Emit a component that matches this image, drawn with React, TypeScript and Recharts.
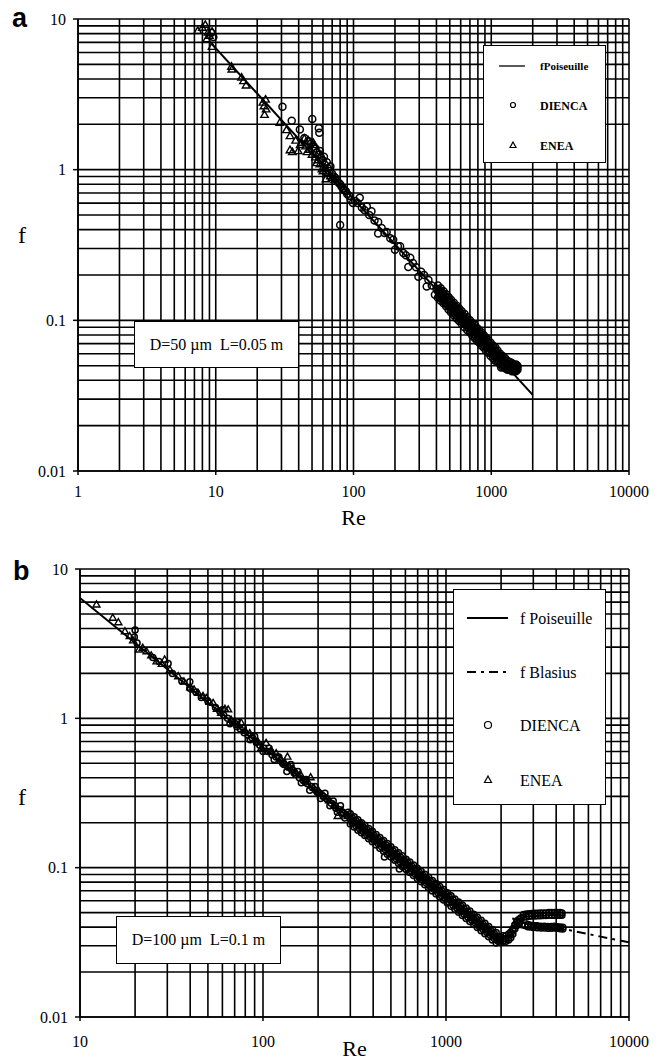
import React from 'react';
import { ComposedChart, Scatter, Line, XAxis, YAxis, CartesianGrid, Legend } from 'recharts';

const SERIF = '"Liberation Serif", "Times New Roman", Times, serif';
const SANS = '"Liberation Sans", Arial, sans-serif';

// ---------- axes / grid values ----------
const xGridA = [1, 2, 3, 4, 5, 6, 7, 8, 9, 10, 20, 30, 40, 50, 60, 70, 80, 90, 100, 200, 300, 400, 500, 600, 700, 800, 900, 1000, 2000, 3000, 4000, 5000, 6000, 7000, 8000, 9000, 10000];
const xGridB = [10, 20, 30, 40, 50, 60, 70, 80, 90, 100, 200, 300, 400, 500, 600, 700, 800, 900, 1000, 2000, 3000, 4000, 5000, 6000, 7000, 8000, 9000, 10000];
const yGrid = [0.01, 0.02, 0.03, 0.04, 0.05, 0.06, 0.07, 0.08, 0.09, 0.1, 0.2, 0.3, 0.4, 0.5, 0.6, 0.7, 0.8, 0.9, 1, 2, 3, 4, 5, 6, 7, 8, 9, 10];
const xMajorA = [1, 10, 100, 1000, 10000];
const xLabelsA = ['1', '10', '100', '1000', '10000'];
const xMajorB = [10, 100, 1000, 10000];
const xLabelsB = ['10', '100', '1000', '10000'];
const yMajor = [0.01, 0.1, 1, 10];
const yLabels = ['0.01', '0.1', '1', '10'];

// ---------- panel a data ----------
const poiseuilleA: [number, number][] = [[9, 7.11], [2000, 0.032]];

const diencaA: [number, number][] = [
  [9.3, 8.1], [9.6, 7.6],
  [30.5, 2.62], [35.6, 2.11], [40.8, 1.85], [44, 1.62], [50.2, 2.17], [56, 1.88], [56.5, 1.76],
  [47, 1.55], [49, 1.48], [51, 1.42], [53, 1.38], [54, 1.3], [56, 1.25], [57, 1.33], [58, 1.2], [60, 1.15],
  [61, 1.22], [62, 1.08], [64, 1.12], [65, 1.02], [67, 0.98], [68, 1.05], [70, 0.94], [72, 0.9], [74, 0.88],
  [76, 0.84], [78, 0.82], [80, 0.8], [82, 0.77], [84, 0.75], [86, 0.73], [88, 0.72], [90, 0.69], [93, 0.67],
  [80, 0.43],
  [96, 0.63], [99, 0.6], [103, 0.62], [107, 0.6], [111, 0.65], [115, 0.56], [120, 0.54], [125, 0.57], [130, 0.5],
  [135, 0.53], [142, 0.46], [151, 0.45], [151, 0.377], [160, 0.41], [168, 0.38], [174, 0.386], [185, 0.35],
  [194, 0.343], [200, 0.294], [210, 0.31], [218, 0.31], [230, 0.28], [240, 0.27], [250, 0.226], [258, 0.26],
  [270, 0.24], [285, 0.225], [296, 0.195], [310, 0.21], [325, 0.2], [340, 0.168], [350, 0.185], [370, 0.17],
  [390, 0.148], [400, 0.162], [450, 0.13], [531, 0.112],
  [410, 0.141], [410, 0.156], [410, 0.17],
  [430, 0.135], [430, 0.149], [430, 0.163],
  [450, 0.142], [450, 0.156],
  [470, 0.124], [470, 0.136], [470, 0.149],
  [490, 0.118], [490, 0.131], [490, 0.143],
  [510, 0.113], [510, 0.125], [510, 0.137],
  [535, 0.108], [535, 0.12], [535, 0.131],
  [560, 0.103], [560, 0.114], [560, 0.125],
  [585, 0.099], [585, 0.109], [585, 0.12],
  [610, 0.095], [610, 0.105], [610, 0.115],
  [640, 0.09], [640, 0.1], [640, 0.11],
  [670, 0.086], [670, 0.0955], [670, 0.105],
  [700, 0.083], [700, 0.0915], [700, 0.1],
  [730, 0.079], [730, 0.0877], [730, 0.096],
  [760, 0.076], [760, 0.0842], [760, 0.093],
  [790, 0.073], [790, 0.081], [790, 0.089],
  [820, 0.071], [820, 0.078], [820, 0.086],
  [850, 0.068], [850, 0.0753], [850, 0.083],
  [880, 0.066], [880, 0.0727], [880, 0.08],
  [915, 0.063], [915, 0.07], [915, 0.077],
  [950, 0.061], [950, 0.0674], [950, 0.074],
  [990, 0.058], [990, 0.0646], [990, 0.071],
  [1030, 0.056], [1030, 0.0621], [1030, 0.068],
  [1070, 0.054], [1070, 0.0598], [1070, 0.066],
  [1110, 0.053], [1110, 0.0577], [1110, 0.063],
  [1160, 0.051], [1160, 0.0552], [1160, 0.06],
  [1180, 0.0487],
  [1210, 0.049], [1210, 0.053], [1210, 0.058],
  [1260, 0.048], [1260, 0.051], [1260, 0.056],
  [1310, 0.047], [1310, 0.05], [1310, 0.054],
  [1360, 0.047], [1360, 0.0495], [1360, 0.053],
  [1410, 0.046], [1410, 0.049], [1410, 0.052],
  [1460, 0.046], [1460, 0.0485], [1460, 0.051],
  [1510, 0.046], [1510, 0.048], [1510, 0.051],
  [1550, 0.047], [1550, 0.049], [1550, 0.05],
  // intermediate rows of the dense band
  [420, 0.145], [420, 0.16], [440, 0.138], [440, 0.153], [460, 0.132], [460, 0.146], [480, 0.127], [480, 0.14],
  [500, 0.122], [500, 0.134], [522, 0.116], [522, 0.129], [547, 0.111], [547, 0.123], [572, 0.106], [572, 0.117],
  [597, 0.102], [597, 0.113], [625, 0.0973], [625, 0.1075], [655, 0.0928], [655, 0.1026], [685, 0.0888], [685, 0.0981],
  [715, 0.085], [715, 0.094], [745, 0.0816], [745, 0.0902], [775, 0.0785], [775, 0.0867], [805, 0.0755], [805, 0.0835],
  [835, 0.0728], [835, 0.0805], [865, 0.0703], [865, 0.0777], [897, 0.0678], [897, 0.0749], [932, 0.0652], [932, 0.0721],
  [970, 0.0627], [970, 0.0693], [1010, 0.0602], [1010, 0.0665], [1050, 0.0579], [1050, 0.064], [1090, 0.0558], [1090, 0.0616],
  [1135, 0.0536], [1135, 0.0592], [1185, 0.0515], [1185, 0.057], [1235, 0.05], [1235, 0.0545], [1285, 0.0485], [1285, 0.0525],
  [1335, 0.0478], [1335, 0.0515], [1385, 0.047], [1385, 0.051], [1435, 0.0465], [1435, 0.0505], [1485, 0.0462], [1485, 0.05],
  [1530, 0.047], [1530, 0.0495],
  [420, 0.152], [440, 0.1455], [460, 0.139], [480, 0.1333], [500, 0.128], [522, 0.1226], [547, 0.117], [572, 0.1119],
  [597, 0.1072], [625, 0.1024], [655, 0.0977], [685, 0.0934], [715, 0.0895], [745, 0.0859], [775, 0.0826], [805, 0.0795],
  [835, 0.0766], [865, 0.074], [897, 0.0713], [932, 0.0687], [970, 0.066], [1010, 0.0634], [1050, 0.061], [1090, 0.0587],
  [1135, 0.0564], [1185, 0.054], [1235, 0.052], [1285, 0.0505], [1335, 0.0495], [1385, 0.049], [1435, 0.0485], [1485, 0.048],
];

const eneaA: [number, number][] = [
  [7.4, 8.3], [8.0, 8.7], [8.4, 9.1], [8.8, 8.1], [9.4, 8.2], [8.6, 7.3], [9.4, 6.5], [9.0, 7.7],
  [13, 4.8], [13.1, 4.6], [15.4, 4.06], [15.9, 3.85], [16.6, 3.6],
  [22, 2.77], [22.4, 2.62], [22.6, 2.3], [23, 2.9], [23.2, 2.5],
  [29.2, 2.04], [32.6, 1.82], [34.6, 1.66], [34.6, 1.34], [36, 1.3], [39.7, 1.32], [38, 1.55], [41, 1.45],
  [42, 1.5], [44, 1.6], [45, 1.42], [46, 1.3], [47, 1.55], [48, 1.35], [50, 1.25], [51, 1.5], [52, 1.45],
  [53, 1.2], [54, 1.1], [55, 1.15], [57, 1.08], [58, 1.25], [59, 1.0], [60, 0.97], [62, 1.02], [63, 0.86],
  [65, 0.95], [68, 0.9], [70, 0.88], [73, 0.85],
];

// ---------- panel b data ----------
const poiseuilleB: [number, number][] = [[10, 6.4], [2000, 0.032]];
const blasiusB: [number, number][] = [[2300, 0.0457], [10000, 0.0316]];

const diencaB: [number, number][] = [
  [19.8, 3.5], [20, 3.9], [20.5, 3.2], [25, 2.55], [27, 2.4], [30.3, 2.33], [32, 2.0], [36, 1.78],
  [39.8, 1.76], [39.8, 1.59], [43, 1.5], [46, 1.38], [50, 1.3], [55, 1.18], [58, 1.12], [61, 1.05],
  [64, 1.0], [68, 0.95], [72, 0.88], [75, 0.85], [79, 0.8], [83, 0.77], [87, 0.74], [92, 0.69], [96, 0.66],
  [101, 0.63], [106, 0.6], [112, 0.57], [118, 0.55], [124, 0.52], [130, 0.49], [137, 0.47], [144, 0.45],
  [151, 0.42], [158, 0.4], [166, 0.385], [175, 0.365], [184, 0.35], [194, 0.33], [204, 0.315], [214, 0.3],
  [225, 0.285], [236, 0.27], [248, 0.26], [260, 0.245], [273, 0.235], [286, 0.225],
  [60, 1.14], [66, 0.92], [72, 0.95], [78, 0.86], [85, 0.72], [90, 0.76], [100, 0.6], [108, 0.63],
  [115, 0.53], [122, 0.55], [135, 0.44], [142, 0.49], [155, 0.44], [162, 0.37], [172, 0.39], [180, 0.33],
  [192, 0.35], [206, 0.29], [218, 0.315], [232, 0.26], [242, 0.28], [255, 0.235], [265, 0.26], [280, 0.215],
  [292, 0.235], [461, 0.118], [556, 0.098],
  [110, 0.6], [128, 0.5], [148, 0.43], [170, 0.375], [198, 0.32], [222, 0.29], [250, 0.25], [275, 0.23],
  [300, 0.196], [300, 0.213], [300, 0.23],
  [315, 0.187], [315, 0.203], [315, 0.219],
  [330, 0.178], [330, 0.194], [330, 0.209],
  [345, 0.171], [345, 0.186], [345, 0.2],
  [360, 0.164], [360, 0.178], [360, 0.192],
  [378, 0.156], [378, 0.169], [378, 0.183],
  [396, 0.149], [396, 0.162], [396, 0.175],
  [415, 0.142], [415, 0.154], [415, 0.167],
  [435, 0.135], [435, 0.147], [435, 0.159],
  [456, 0.129], [456, 0.14], [456, 0.152],
  [478, 0.123], [478, 0.134], [478, 0.145],
  [500, 0.118], [500, 0.128], [500, 0.138],
  [525, 0.112], [525, 0.122], [525, 0.132],
  [550, 0.107], [550, 0.116], [550, 0.126],
  [577, 0.102], [577, 0.111], [577, 0.12],
  [605, 0.0973], [605, 0.106], [605, 0.114],
  [634, 0.0929], [634, 0.101], [634, 0.109],
  [665, 0.0885], [665, 0.0962], [665, 0.104],
  [697, 0.0845], [697, 0.0918], [697, 0.0992],
  [731, 0.0806], [731, 0.0876], [731, 0.0946],
  [766, 0.0769], [766, 0.0836], [766, 0.0902],
  [803, 0.0733], [803, 0.0797], [803, 0.0861],
  [842, 0.0699], [842, 0.076], [842, 0.0821],
  [883, 0.0667], [883, 0.0725], [883, 0.0783],
  [925, 0.0637], [925, 0.0692], [925, 0.0747],
  [970, 0.0607], [970, 0.066], [970, 0.0713],
  [1017, 0.0579], [1017, 0.0629], [1017, 0.068],
  [1066, 0.0552], [1066, 0.06], [1066, 0.0648],
  [1118, 0.0527], [1118, 0.0572], [1118, 0.0618],
  [1172, 0.0502], [1172, 0.0546], [1172, 0.059],
  [1229, 0.0479], [1229, 0.0521], [1229, 0.0562],
  [1288, 0.0457], [1288, 0.0497], [1288, 0.0537],
  [1350, 0.0436], [1350, 0.0474], [1350, 0.0512],
  [1416, 0.0416], [1416, 0.0452], [1416, 0.0488],
  [1484, 0.0397], [1484, 0.0431], [1484, 0.0466],
  [1556, 0.0378], [1556, 0.0411], [1556, 0.0444],
  [1631, 0.0361], [1631, 0.0392], [1631, 0.0424],
  [1710, 0.0344], [1710, 0.0374], [1710, 0.0404],
  [1793, 0.0328], [1793, 0.0357], [1793, 0.0386],
  [1880, 0.0313], [1880, 0.034], [1880, 0.0368],
  [1971, 0.0315], [1971, 0.033], [1971, 0.0345],
  [2050, 0.0322], [2050, 0.0335], [2050, 0.035],
  [2130, 0.0322], [2130, 0.0333], [2130, 0.035],
  [2200, 0.0328], [2200, 0.034], [2200, 0.036],
  [2260, 0.034], [2260, 0.0355], [2260, 0.037],
  [2320, 0.036], [2320, 0.038], [2320, 0.039],
  [2380, 0.039], [2380, 0.041], [2380, 0.0415],
  [2440, 0.041], [2440, 0.0435], [2440, 0.044],
  [2500, 0.0425], [2500, 0.045],
  [2560, 0.044], [2560, 0.046],
  [2650, 0.0465], [2650, 0.0485], [2750, 0.047], [2750, 0.049], [2850, 0.0472], [2850, 0.0492],
  [2950, 0.0474], [2950, 0.0494], [3060, 0.0475], [3060, 0.0495], [3170, 0.0476], [3170, 0.0496],
  [3280, 0.0477], [3280, 0.0497], [3400, 0.0478], [3400, 0.0498], [3520, 0.0478], [3520, 0.0498],
  [3650, 0.048], [3650, 0.05], [3780, 0.048], [3780, 0.05], [3920, 0.048], [3920, 0.05],
  [4060, 0.0481], [4060, 0.0501], [4200, 0.0481], [4200, 0.0501], [4300, 0.048], [4300, 0.0498],
  [2600, 0.0415], [2700, 0.041], [2800, 0.0402], [2800, 0.0416], [2900, 0.04], [2900, 0.0412],
  [3000, 0.0398], [3000, 0.041], [3150, 0.0396], [3150, 0.0408], [3300, 0.0395], [3300, 0.0406],
  [3450, 0.0394], [3450, 0.0405], [3600, 0.0393], [3600, 0.0404], [3750, 0.0393], [3750, 0.0403],
  [3900, 0.0394], [3900, 0.0405], [4050, 0.0393], [4050, 0.0402], [4200, 0.039], [4200, 0.0401],
  [4350, 0.0389], [4350, 0.0399],
  // intermediate rows of the dense band
  [307, 0.2], [307, 0.217], [322, 0.191], [322, 0.207], [337, 0.182], [337, 0.198], [352, 0.175], [352, 0.189],
  [369, 0.166], [369, 0.18], [387, 0.159], [387, 0.172], [405, 0.152], [405, 0.164], [425, 0.145], [425, 0.157],
  [445, 0.138], [445, 0.15], [467, 0.132], [467, 0.143], [489, 0.126], [489, 0.136], [512, 0.12], [512, 0.13],
  [537, 0.114], [537, 0.124], [563, 0.109], [563, 0.118], [591, 0.104], [591, 0.113], [619, 0.0993], [619, 0.1075],
  [649, 0.0947], [649, 0.1026], [681, 0.0902], [681, 0.0977], [714, 0.086], [714, 0.0932], [748, 0.0822], [748, 0.089],
  [784, 0.0784], [784, 0.0849], [822, 0.0748], [822, 0.081], [862, 0.0713], [862, 0.0772], [904, 0.068], [904, 0.0736],
  [947, 0.0649], [947, 0.0703], [993, 0.0619], [993, 0.0671], [1041, 0.059], [1041, 0.064], [1092, 0.0563], [1092, 0.0609],
  [1145, 0.0537], [1145, 0.0581], [1200, 0.0512], [1200, 0.0555], [1258, 0.0488], [1258, 0.0529], [1319, 0.0466], [1319, 0.0505],
  [1383, 0.0444], [1383, 0.0481], [1450, 0.0424], [1450, 0.0459], [1520, 0.0404], [1520, 0.0438], [1593, 0.0386], [1593, 0.0418],
  [1670, 0.0368], [1670, 0.0398], [1751, 0.0351], [1751, 0.038], [1836, 0.0335], [1836, 0.0363], [1925, 0.0322], [1925, 0.0342],
  [307, 0.2085], [322, 0.1988], [337, 0.1899], [352, 0.1818], [369, 0.1734], [387, 0.1654], [405, 0.158], [425, 0.1506],
  [445, 0.1438], [467, 0.137], [489, 0.1309], [512, 0.125], [537, 0.1192], [563, 0.1137], [591, 0.1083], [619, 0.1034],
  [649, 0.0986], [681, 0.094], [714, 0.0896], [748, 0.0856], [784, 0.0816], [822, 0.0779], [862, 0.0742], [904, 0.0708],
  [947, 0.0676], [993, 0.0645], [1041, 0.0615], [1092, 0.0586], [1145, 0.0559], [1200, 0.0533], [1258, 0.0509], [1319, 0.0485],
  [1383, 0.0463], [1450, 0.0441], [1520, 0.0421], [1593, 0.0402], [1670, 0.0383], [1751, 0.0366], [1836, 0.0349], [1925, 0.0332],
];

const eneaB: [number, number][] = [
  [12.3, 5.74], [15.1, 4.68], [16.2, 4.37], [17.6, 3.8], [18.7, 3.53], [19.5, 3.3], [21, 2.87], [22, 2.95],
  [23.1, 2.79], [24.5, 2.62], [26.2, 2.39], [28, 2.3], [29, 2.46], [31, 2.1], [34.4, 1.9], [37, 1.75],
  [40, 1.6], [42, 1.55], [44.2, 1.47], [47, 1.4], [49, 1.36], [51, 1.28], [53.4, 1.26], [56, 1.15],
  [59, 1.08], [62, 1.15], [64.5, 1.14], [67, 0.97], [70, 0.95], [73, 0.9], [76, 0.93], [80, 0.82],
  [84.6, 0.79], [90, 0.72], [94, 0.69], [98, 0.63], [104, 0.68], [110, 0.6], [118, 0.58], [125, 0.53],
  [132, 0.5], [136, 0.55], [140, 0.47], [146, 0.46], [152, 0.43], [160, 0.42], [170, 0.38], [182, 0.4],
  [190, 0.34], [200, 0.33], [215, 0.3], [230, 0.28], [245, 0.26], [256, 0.22], [270, 0.24], [290, 0.22],
];

const toPts = (arr: [number, number][]) => arr.map(([re, f]) => ({ re, f }));

// ---------- shapes ----------
const circleShape = (r: number, sw: number) => (p: any) => (
  <circle cx={p.cx} cy={p.cy} r={r} fill="none" stroke="#000" strokeWidth={sw} />
);
const triShape = (s: number, sw: number) => (p: any) => {
  const h = s * 0.866;
  return (
    <path
      d={`M${p.cx},${p.cy - (h * 2) / 3} L${p.cx + s / 2},${p.cy + h / 3} L${p.cx - s / 2},${p.cy + h / 3} Z`}
      fill="none"
      stroke="#000"
      strokeWidth={sw}
    />
  );
};

const makeXTick = (majors: number[], labels: string[], dy: number) => (props: any) => {
  const { x, y, payload } = props;
  const i = majors.indexOf(payload.value);
  if (i < 0) return <g />;
  return (
    <g>
      <line x1={x} x2={x} y1={y} y2={y + 4} stroke="#000" strokeWidth={1.5} />
      <text x={x} y={y + dy} textAnchor="middle" fontFamily={SERIF} fontSize={16} fill="#000">
        {labels[i]}
      </text>
    </g>
  );
};

const makeYTick = (gap: number) => (props: any) => {
  const { x, y, payload } = props;
  const i = yMajor.indexOf(payload.value);
  if (i < 0) return <g />;
  return (
    <g>
      <line x1={x - 5} x2={x} y1={y} y2={y} stroke="#000" strokeWidth={1.5} />
      <text x={x - gap} y={y + 5.5} textAnchor="end" fontFamily={SERIF} fontSize={16} fill="#000">
        {yLabels[i]}
      </text>
    </g>
  );
};

const legendA = () => (
  <svg width={123} height={118} style={{ display: 'block' }}>
    <rect x={0.5} y={0.5} width={122} height={117} fill="#fff" stroke="#000" strokeWidth={1} />
    <line x1={16} x2={42} y1={21} y2={21} stroke="#000" strokeWidth={1.3} />
    <text x={57} y={25} fontFamily={SERIF} fontSize={11} fontWeight="bold">fPoiseuille</text>
    <circle cx={30} cy={60} r={2.5} fill="none" stroke="#000" strokeWidth={1.2} />
    <text x={57} y={64.5} fontFamily={SERIF} fontSize={12} fontWeight="bold">DIENCA</text>
    <path d="M30,97 L33,102.5 L27,102.5 Z" fill="none" stroke="#000" strokeWidth={1.2} />
    <text x={57} y={104.5} fontFamily={SERIF} fontSize={12} fontWeight="bold">ENEA</text>
  </svg>
);

const legendB = () => (
  <svg width={153} height={216} style={{ display: 'block' }}>
    <rect x={0.5} y={0.5} width={152} height={215} fill="#fff" stroke="#000" strokeWidth={1} />
    <line x1={14} x2={55} y1={29} y2={29} stroke="#000" strokeWidth={2} />
    <text x={67} y={34.5} fontFamily={SERIF} fontSize={16}>f Poiseuille</text>
    <line x1={14} x2={55} y1={83} y2={83} stroke="#000" strokeWidth={2} strokeDasharray="9 5 3 5" />
    <text x={67} y={88.5} fontFamily={SERIF} fontSize={16}>f Blasius</text>
    <circle cx={35} cy={136} r={3.5} fill="none" stroke="#000" strokeWidth={1.2} />
    <text x={67} y={141.5} fontFamily={SERIF} fontSize={16}>DIENCA</text>
    <path d="M35,187 L38.5,193.5 L31.5,193.5 Z" fill="none" stroke="#000" strokeWidth={1.2} />
    <text x={67} y={196.5} fontFamily={SERIF} fontSize={16}>ENEA</text>
  </svg>
);

const gridStroke = '#000';
const gridWidth = 1.6;

export default function App() {
  return (
    <div style={{ position: 'absolute', left: 0, top: 0, width: 663, height: 1063, background: '#fff' }}>
      <ComposedChart width={663} height={530} margin={{ top: 19, right: 34, bottom: 0, left: 0 }}>
        <CartesianGrid stroke={gridStroke} strokeWidth={gridWidth} fill="none" />
        <XAxis
          type="number"
          dataKey="re"
          scale="log"
          domain={[1, 10000]}
          ticks={xGridA}
          interval={0}
          allowDataOverflow
          height={59}
          tickSize={0}
          tickMargin={0}
          tickLine={false}
          axisLine={{ stroke: '#000', strokeWidth: gridWidth }}
          tick={makeXTick(xMajorA, xLabelsA, 26)}
        />
        <YAxis
          type="number"
          dataKey="f"
          scale="log"
          domain={[0.01, 10]}
          ticks={yGrid}
          interval={0}
          allowDataOverflow
          width={78}
          tickSize={0}
          tickMargin={0}
          tickLine={false}
          axisLine={{ stroke: '#000', strokeWidth: gridWidth }}
          tick={makeYTick(12)}
        />
        <Scatter name="DIENCA" data={toPts(diencaA)} dataKey="f" shape={circleShape(3.5, 1.5)} isAnimationActive={false} />
        <Scatter name="ENEA" data={toPts(eneaA)} dataKey="f" shape={triShape(7.5, 1.4)} isAnimationActive={false} />
        <Line name="fPoiseuille" data={toPts(poiseuilleA)} dataKey="f" type="linear" stroke="#000" strokeWidth={2} dot={false} activeDot={false} isAnimationActive={false} />
        <Legend
          layout="vertical"
          align="center"
          verticalAlign="middle"
          content={legendA}
          wrapperStyle={{ position: 'absolute', left: 483, top: 45, width: 123, height: 118 }}
        />
      </ComposedChart>
      <ComposedChart width={663} height={533} margin={{ top: 39, right: 34, bottom: 0, left: 0 }}>
        <CartesianGrid stroke={gridStroke} strokeWidth={gridWidth} fill="none" />
        <XAxis
          type="number"
          dataKey="re"
          scale="log"
          domain={[10, 10000]}
          ticks={xGridB}
          interval={0}
          allowDataOverflow
          height={46}
          tickSize={0}
          tickMargin={0}
          tickLine={false}
          axisLine={{ stroke: '#000', strokeWidth: gridWidth }}
          tick={makeXTick(xMajorB, xLabelsB, 30)}
        />
        <YAxis
          type="number"
          dataKey="f"
          scale="log"
          domain={[0.01, 10]}
          ticks={yGrid}
          interval={0}
          allowDataOverflow
          width={80}
          tickSize={0}
          tickMargin={0}
          tickLine={false}
          axisLine={{ stroke: '#000', strokeWidth: gridWidth }}
          tick={makeYTick(12)}
        />
        <Scatter name="DIENCA" data={toPts(diencaB)} dataKey="f" shape={circleShape(3, 1.5)} isAnimationActive={false} />
        <Scatter name="ENEA" data={toPts(eneaB)} dataKey="f" shape={triShape(7, 1.4)} isAnimationActive={false} />
        <Line name="f Poiseuille" data={toPts(poiseuilleB)} dataKey="f" type="linear" stroke="#000" strokeWidth={2} dot={false} activeDot={false} isAnimationActive={false} />
        <Line name="f Blasius" data={toPts(blasiusB)} dataKey="f" type="linear" stroke="#000" strokeWidth={2} strokeDasharray="9 5 3 5" dot={false} activeDot={false} isAnimationActive={false} />
        <Legend
          layout="vertical"
          align="center"
          verticalAlign="middle"
          content={legendB}
          wrapperStyle={{ position: 'absolute', left: 453, top: 59, width: 153, height: 216 }}
        />
      </ComposedChart>
      <svg
        width={663}
        height={1063}
        style={{ position: 'absolute', left: 0, top: 0, pointerEvents: 'none' }}
      >
        <text x={12} y={27} fontFamily={SANS} fontWeight="bold" fontSize={27}>a</text>
        <text x={13} y={580} fontFamily={SANS} fontWeight="bold" fontSize={27}>b</text>
        <text x={22} y={243} textAnchor="middle" fontFamily={SERIF} fontSize={24}>f</text>
        <text x={22} y={805} textAnchor="middle" fontFamily={SERIF} fontSize={24}>f</text>
        <text x={353.5} y={525} textAnchor="middle" fontFamily={SERIF} fontSize={22}>Re</text>
        <text x={354.5} y={1056} textAnchor="middle" fontFamily={SERIF} fontSize={22}>Re</text>
        <rect x={134.5} y={321.5} width={164} height={46} fill="#fff" stroke="#000" strokeWidth={1} />
        <text x={216.5} y={350} textAnchor="middle" fontFamily={SERIF} fontSize={16} style={{ whiteSpace: 'pre' }}>
          {'D=50 \u00b5m  L=0.05 m'}
        </text>
        <rect x={116.5} y={916.5} width={164} height={47} fill="#fff" stroke="#000" strokeWidth={1} />
        <text x={198.5} y={945} textAnchor="middle" fontFamily={SERIF} fontSize={16} style={{ whiteSpace: 'pre' }}>
          {'D=100 \u00b5m  L=0.1 m'}
        </text>
      </svg>
    </div>
  );
}
